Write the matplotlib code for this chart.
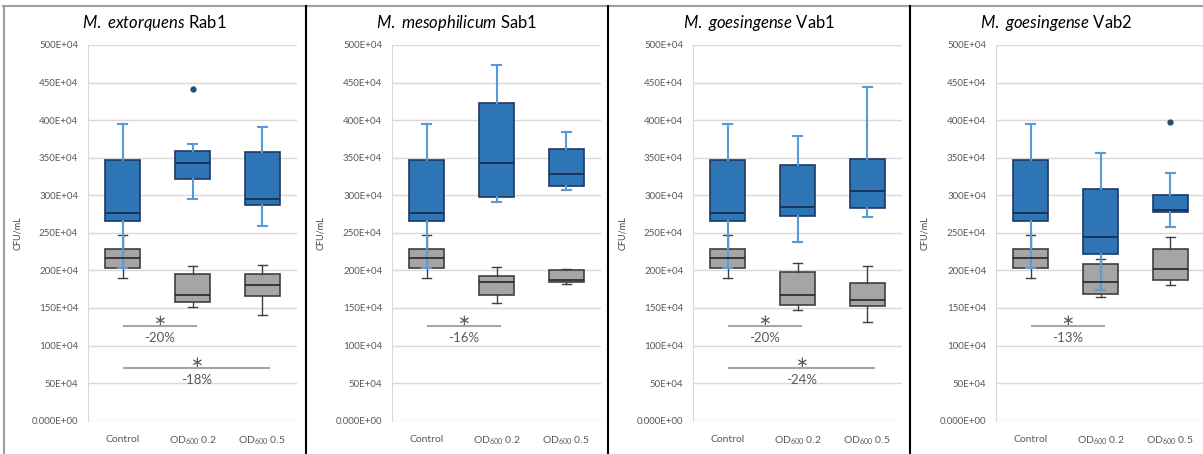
import numpy as np
import matplotlib
matplotlib.use('Agg')
import matplotlib.pyplot as plt
from matplotlib.lines import Line2D
from matplotlib.ticker import FuncFormatter

plt.rcParams['font.family'] = ['Lato', 'DejaVu Sans']
plt.rcParams['mathtext.fontset'] = 'custom'
plt.rcParams['mathtext.rm'] = 'Lato'
plt.rcParams['mathtext.it'] = 'Lato:italic'

# values in units of 1E+04 CFU/mL
# each box: (low whisker, q1, median, q3, high whisker)
categories = ['Control', 'OD$_{600}$ 0.2', 'OD$_{600}$ 0.5']
species = ['M.\\ extorquens', 'M.\\ mesophilicum', 'M.\\ goesingense', 'M.\\ goesingense']
strains = ['Rab1', 'Sab1', 'Vab1', 'Vab2']

control_blue = [203, 266, 276, 346.5, 394.5]
control_gray = [190, 203.5, 216, 228, 247]

blue_boxes = [
    [control_blue, [295.5, 321.7, 342.5, 359, 368], [259, 287, 295.5, 357, 391]],
    [control_blue, [291.5, 298, 342.5, 423, 473.5], [307.5, 312, 328.7, 361.6, 384.2]],
    [control_blue, [237.8, 272.4, 284.8, 340.3, 379], [270.6, 282.6, 306, 347.8, 444.5]],
    [control_blue, [174, 221.8, 244.5, 308.8, 356.7], [257.8, 277.7, 280.8, 300.4, 329.6]],
]
gray_boxes = [
    [control_gray, [151.3, 158.4, 167.3, 194.8, 205.9], [140.2, 166.4, 180.6, 195.2, 207.2]],
    [control_gray, [157, 167.7, 184, 192, 205], [181.9, 185, 187.2, 201, 202.3]],
    [control_gray, [147.3, 153.9, 166.8, 197.9, 209.4], [131, 152.2, 160.2, 183.7, 206.3]],
    [control_gray, [164.2, 169, 185, 208.5, 215.6], [180, 187.2, 202.3, 228.5, 244]],
]
blue_fliers = [[[], [441.5], []], [[], [], []], [[], [], []], [[], [], [397.5]]]

# significance: (to category, y level, label)
signif = [
    [(2, 125.6, '-20%'), (3, 69.7, '-18%')],
    [(2, 125.6, '-16%')],
    [(2, 125.6, '-20%'), (3, 69.7, '-24%')],
    [(2, 125.6, '-13%')],
]

W, H = 1203, 454
fig = plt.figure(figsize=(W / 100, H / 100), dpi=100)

ax_left = [88, 392, 693, 996]
ax_width = 209
panel_bounds = [(3, 306), (306, 608), (608, 910), (910, 1203)]


def stats_list(boxes, fliers):
    out = []
    for b, f in zip(boxes, fliers):
        out.append(dict(whislo=b[0], q1=b[1], med=b[2], q3=b[3], whishi=b[4], fliers=f))
    return out


def fmt(v, pos):
    if v == 0:
        return '0.000E+00'
    return '%dE+04' % v


for i in range(4):
    ax = fig.add_axes([ax_left[i] / W, 1 - 420.7 / H, ax_width / W, (420.7 - 45) / H])
    ax.set_xlim(0.5, 3.5)
    ax.set_ylim(0, 500)
    ax.set_yticks(np.arange(0, 501, 50))
    ax.yaxis.set_major_formatter(FuncFormatter(fmt))
    ax.grid(axis='y', color='#D9D9D9', lw=1)
    ax.set_axisbelow(True)
    for s in ['top', 'right', 'bottom']:
        ax.spines[s].set_visible(False)
    ax.spines['left'].set_color('#D9D9D9')
    ax.tick_params(length=0, labelsize=7, labelcolor='#595959', pad=7)
    ax.tick_params(axis='x', labelsize=7.5, pad=10)

    ax.bxp(stats_list(gray_boxes[i], [[], [], []]), positions=[1, 2, 3], widths=0.5,
           patch_artist=True,
           boxprops=dict(facecolor='#A5A5A5', edgecolor='#404040', lw=1.2),
           whiskerprops=dict(color='#404040', lw=1.0),
           capprops=dict(color='#404040', lw=1.0),
           medianprops=dict(color='#262626', lw=1.2),
           capwidths=0.13)
    ax.bxp(stats_list(blue_boxes[i], blue_fliers[i]), positions=[1, 2, 3], widths=0.5,
           patch_artist=True,
           boxprops=dict(facecolor='#2E75B6', edgecolor='#1F3864', lw=1.2),
           whiskerprops=dict(color='#5B9BD5', lw=1.5),
           capprops=dict(color='#5B9BD5', lw=1.5),
           medianprops=dict(color='#1A2E50', lw=1.3),
           flierprops=dict(marker='o', markersize=3.5, markerfacecolor='#1F4E79',
                           markeredgecolor='#1F4E79'),
           capwidths=0.13)
    ax.set_xticks([1, 2, 3])
    ax.set_xticklabels(categories)

    ax.set_ylabel('CFU/mL', fontsize=6.5, color='#404040')
    ax.yaxis.set_label_coords((22 - ax_left[i] + panel_bounds[i][0] - 3) / ax_width, 0.5)

    for to, y, lab in signif[i]:
        x2 = 2.05 if to == 2 else 3.1
        ax.plot([1.01, x2], [y, y], color='#A6A6A6', lw=1.5, clip_on=False)
        ax.text((1.01 + x2) / 2, y + 8, '\u2217', ha='center', va='center', fontsize=11,
                family='DejaVu Sans', color='#595959')
        ax.text((1.01 + x2) / 2, y - 15, lab, ha='center', va='center', fontsize=9.5,
                color='#595959')

    cx = (panel_bounds[i][0] + panel_bounds[i][1]) / 2 / W
    fig.text(cx, 1 - 23 / H, r'$\mathit{%s}$ %s' % (species[i], strains[i]),
             ha='center', va='center', fontsize=12, color='#000000')

# panel frame lines
fig.add_artist(Line2D([3 / W, 1], [1 - 5.5 / H, 1 - 5.5 / H], color='#A0A0A0', lw=1.5))
fig.add_artist(Line2D([3.5 / W, 3.5 / W], [0, 1 - 5.5 / H], color='#A0A0A0', lw=1.5))
for xb in [306, 608, 910]:
    fig.add_artist(Line2D([xb / W, xb / W], [0, 1 - 5.5 / H], color='#000000', lw=1.5))

fig.savefig('out.png', dpi=100)
